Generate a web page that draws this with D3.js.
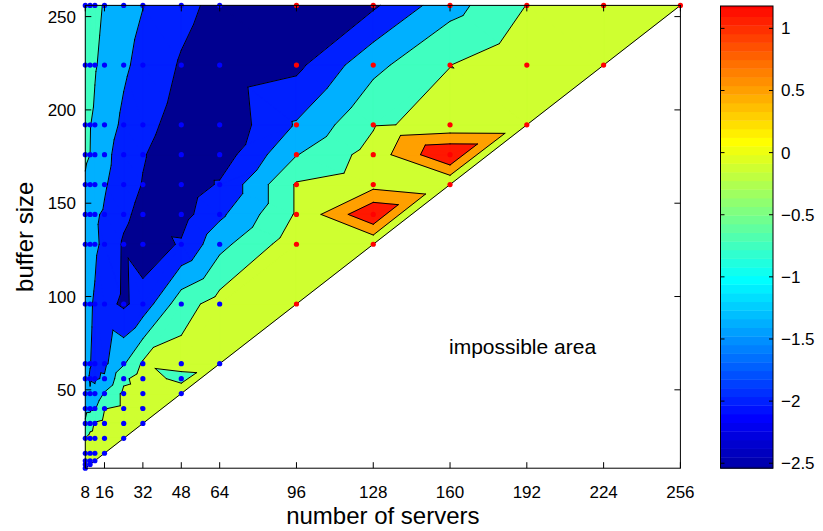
<!DOCTYPE html>
<html><head><meta charset="utf-8">
<script src="https://cdn.jsdelivr.net/npm/d3@7"></script>
<style>
body{margin:0;background:#fff}
svg{display:block}
text{font-family:"Liberation Sans",Arial,Helvetica,sans-serif;fill:#000}
</style>
</head><body>
<svg id="chart" width="823" height="531"></svg>
<script>
// ---------------- data ----------------
const xServers = [8,10,12,16,24,32,48,64,96,128,160,192,224,256];
const yBuffers = [8,10,12,16,24,32,40,48,56,64,96,128,144,160,176,192,224,256];
// value per measured point, one array per number of servers, aligned with yBuffers
// (null = buffer smaller than number of servers: impossible)
const col8   = [-0.25,-0.22,-0.25,-0.30,-0.48,-0.95,-1.12,-1.30,-1.40,-1.42,-1.35,-1.20,-1.15,-1.05,-0.94,-0.86,-0.75,-0.65];
const col10  = [null,-0.25,-0.22,-0.25,-0.35,-0.70,-1.10,-1.48,-1.52,-1.49,-1.45,-1.32,-1.28,-1.15,-1.00,-0.99,-0.86,-0.78];
const col12  = [null,null,-0.25,-0.22,-0.30,-0.45,-1.05,-1.40,-1.55,-1.58,-1.55,-1.42,-1.45,-1.25,-1.10,-1.06,-0.97,-0.90];
const col16  = [null,null,null,-0.25,-0.25,-0.35,-0.52,-0.95,-1.45,-1.60,-1.85,-1.60,-1.55,-1.45,-1.35,-1.25,-1.10,-1.03];
const col24  = [null,null,null,null,-0.30,-0.30,-0.40,-0.40,-0.60,-1.05,-2.08,-2.06,-1.90,-1.78,-1.75,-1.60,-1.42,-1.30];
const col32  = [null,null,null,null,null,-0.35,-0.51,-0.32,-0.25,-0.425,-1.80,-2.27,-2.15,-2.02,-1.97,-1.85,-1.65,-1.49];
const col48  = [null,null,null,null,null,null,null,-0.14,-0.66,-0.32,-0.70,-1.95,-2.19,-2.30,-2.30,-2.20,-2.05,-1.85];
const col64  = [null,null,null,null,null,null,null,null,null,-0.26,-0.30,-1.15,-1.60,-1.95,-2.28,-2.39,-2.32,-2.15];
const col96  = [null,null,null,null,null,null,null,null,null,null,-0.30,-0.20,-0.45,-0.45,-1.02,-1.45,-2.12,-2.40];
const col128 = [null,null,null,null,null,null,null,null,null,null,null,-0.43,0.96,-0.18,-0.30,-0.55,-1.14,-2.08];
const col160 = [null,null,null,null,null,null,null,null,null,null,null,null,null,-0.45,1.00,-0.38,-0.505,-1.18];
const col192 = [null,null,null,null,null,null,null,null,null,null,null,null,null,null,null,-0.40,-0.12,-0.49];
const col224 = [null,null,null,null,null,null,null,null,null,null,null,null,null,null,null,null,-0.30,-0.30];
const col256 = [null,null,null,null,null,null,null,null,null,null,null,null,null,null,null,null,null,-0.20];
const columns = [col8,col10,col12,col16,col24,col32,col48,col64,col96,col128,col160,col192,col224,col256];
const blueSeriesServers = [8,10,12,16,24,32,48,64];   // blue markers, the rest red
// grid cells (lower-left corner) split along the lower-left/upper-right diagonal
const upRightCells = [[24,64],[32,64],[48,64],[32,96],[64,96],[64,160],[64,176],[96,144],[96,224],[128,192],[128,224]];

const levels = [-2,-1.5,-1,-0.5,0,0.5];
const xTicks = [8,16,32,48,64,96,128,160,192,224,256];
const yTicks = [50,100,150,200,250];
const cbTicks = [1,0.5,0,-0.5,-1,-1.5,-2,-2.5];
const cbShown = [-2.54,1.18];      // colour bar limits
const cmapRange = [-2.66,1.79];    // range covered by the 64 colours

// ---------------- styles ----------------
const bandColors = ["#000090","#0020ff","#00b0ff","#40ffc0","#cfff30","#ffa000","#ff1800"];
const plot = {l:85.3, r:680.4, t:5.4, b:468.2};
const cb = {l:720.5, r:773, t:6, b:468.2};
const tickFont = 17, labelFont = 24, noteFont = 21;

const svg = d3.select("#chart");
const x = d3.scaleLinear().domain([8,256]).range([plot.l, plot.r]);
const y = d3.scaleLinear().domain([8,256]).range([plot.b, plot.t]);

// points
const pts = [];
const byKey = {};
xServers.forEach((sx, ci) => {
  columns[ci].forEach((v, ri) => {
    if (v !== null) {
      const p = {x: sx, y: yBuffers[ri], v: v, blue: blueSeriesServers.includes(sx)};
      pts.push(p); byKey[sx + "," + yBuffers[ri]] = p;
    }
  });
});
const P = (a, b) => byKey[a + "," + b];
const isUpRight = (a, b) => upRightCells.some(c => c[0] === a && c[1] === b);

// triangulation of the measurement grid (buffer >= servers)
const tris = [];
for (let i = 0; i < xServers.length - 1; i++) {
  const x0 = xServers[i], x1 = xServers[i + 1];
  for (let j = 0; j < yBuffers.length - 1; j++) {
    const y0 = yBuffers[j], y1 = yBuffers[j + 1];
    if (y0 >= x1) {
      const BL = P(x0, y0), BR = P(x1, y0), TL = P(x0, y1), TR = P(x1, y1);
      if (isUpRight(x0, y0)) tris.push([BL, BR, TR], [BL, TR, TL]);
      else tris.push([TL, BL, BR], [TL, BR, TR]);
    } else if (y0 >= x0 && y1 <= x1) {
      tris.push([P(x0, y0), P(x0, y1), P(x1, x1)]);
    }
  }
}

function clip(poly, f) {
  const out = [];
  for (let i = 0; i < poly.length; i++) {
    const a = poly[i], b = poly[(i + 1) % poly.length];
    const fa = f(a), fb = f(b);
    if (fa >= 0) out.push(a);
    if ((fa >= 0) !== (fb >= 0)) {
      const t = fa / (fa - fb);
      out.push({x: a.x + t * (b.x - a.x), y: a.y + t * (b.y - a.y), v: a.v + t * (b.v - a.v)});
    }
  }
  return out;
}

const bandPaths = bandColors.map(() => []);
const linePath = [];
tris.forEach(T => {
  for (let k = 0; k <= levels.length; k++) {
    const lo = k === 0 ? -Infinity : levels[k - 1];
    const hi = k === levels.length ? Infinity : levels[k];
    let poly = T;
    if (isFinite(lo)) poly = clip(poly, p => p.v - lo);
    if (poly.length >= 3 && isFinite(hi)) poly = clip(poly, p => hi - p.v);
    if (poly.length >= 3) {
      bandPaths[k].push("M" + poly.map(p => x(p.x).toFixed(2) + "," + y(p.y).toFixed(2)).join("L") + "Z");
    }
  }
  levels.forEach(L => {
    const cross = [];
    for (let e = 0; e < 3; e++) {
      const a = T[e], b = T[(e + 1) % 3];
      const da = (a.v === L ? 1e-9 : a.v - L), db = (b.v === L ? 1e-9 : b.v - L);
      if ((da < 0) !== (db < 0)) {
        const t = da / (da - db);
        cross.push([x(a.x + t * (b.x - a.x)), y(a.y + t * (b.y - a.y))]);
      }
    }
    if (cross.length === 2) linePath.push("M" + cross[0][0].toFixed(2) + "," + cross[0][1].toFixed(2) + "L" + cross[1][0].toFixed(2) + "," + cross[1][1].toFixed(2));
  });
});

const g = svg.append("g");
bandPaths.forEach((d, k) => {
  g.append("path").attr("d", d.join("")).attr("fill", bandColors[k])
    .attr("stroke", bandColors[k]).attr("stroke-width", 0.6).attr("stroke-linejoin", "round");
});
g.append("path").attr("d", linePath.join("")).attr("fill", "none")
  .attr("stroke", "#000").attr("stroke-width", 1).attr("stroke-linecap", "round");
// boundary of the possible area (diagonal)
g.append("line").attr("x1", x(8)).attr("y1", y(8)).attr("x2", x(256)).attr("y2", y(256))
  .attr("stroke", "#000").attr("stroke-width", 1);

// markers
g.selectAll("circle").data(pts).enter().append("circle")
  .attr("cx", d => x(d.x)).attr("cy", d => y(d.y)).attr("r", 2.6)
  .attr("fill", d => d.blue ? "#0000ff" : "#ff0000");

// axes box and ticks
const ax = svg.append("g").attr("stroke", "#000").attr("stroke-width", 1).attr("fill", "none");
ax.append("rect").attr("x", plot.l).attr("y", plot.t).attr("width", plot.r - plot.l).attr("height", plot.b - plot.t);
const tl = 6;
xTicks.forEach(t => {
  ax.append("line").attr("x1", x(t)).attr("x2", x(t)).attr("y1", plot.b).attr("y2", plot.b - tl);
  ax.append("line").attr("x1", x(t)).attr("x2", x(t)).attr("y1", plot.t).attr("y2", plot.t + tl);
});
yTicks.forEach(t => {
  ax.append("line").attr("y1", y(t)).attr("y2", y(t)).attr("x1", plot.l).attr("x2", plot.l + tl);
  ax.append("line").attr("y1", y(t)).attr("y2", y(t)).attr("x1", plot.r).attr("x2", plot.r - tl);
});
xTicks.forEach(t => {
  svg.append("text").attr("x", x(t)).attr("y", 498).attr("text-anchor", "middle")
    .attr("font-size", tickFont).text(t);
});
yTicks.forEach(t => {
  svg.append("text").attr("x", 76).attr("y", y(t) + 6).attr("text-anchor", "end")
    .attr("font-size", tickFont).text(t);
});
svg.append("text").attr("x", (plot.l + plot.r) / 2).attr("y", 524).attr("text-anchor", "middle")
  .attr("font-size", labelFont).text("number of servers");
svg.append("text").attr("transform", `translate(33,${(plot.t + plot.b) / 2}) rotate(-90)`)
  .attr("text-anchor", "middle").attr("font-size", labelFont).text("buffer size");
svg.append("text").attr("x", 449).attr("y", 354).attr("text-anchor", "start")
  .attr("font-size", noteFont).text("impossible area");

// colour bar
function jet64(k) { // k = 1..64
  const R = k < 25 ? 0 : k <= 40 ? (k - 24) / 16 : k <= 55 ? 1 : (72 - k) / 16;
  const G = k < 9 ? 0 : k <= 24 ? (k - 8) / 16 : k <= 39 ? 1 : k <= 55 ? (56 - k) / 16 : 0;
  const B = k <= 8 ? (k + 8) / 16 : k <= 23 ? 1 : k <= 39 ? (40 - k) / 16 : 0;
  return d3.rgb(R * 255, G * 255, B * 255).toString();
}
const cy = d3.scaleLinear().domain(cbShown).range([cb.b, cb.t]);
const cbg = svg.append("g");
for (let k = 1; k <= 64; k++) {
  const v0 = cmapRange[0] + (k - 1) / 64 * (cmapRange[1] - cmapRange[0]);
  const v1 = cmapRange[0] + k / 64 * (cmapRange[1] - cmapRange[0]);
  const a = Math.max(v0, cbShown[0]), b = Math.min(v1, cbShown[1]);
  if (b <= a) continue;
  cbg.append("rect").attr("x", cb.l).attr("width", cb.r - cb.l)
    .attr("y", cy(b)).attr("height", cy(a) - cy(b) + 0.4).attr("fill", jet64(k));
}
cbg.append("rect").attr("x", cb.l).attr("y", cb.t).attr("width", cb.r - cb.l).attr("height", cb.b - cb.t)
  .attr("fill", "none").attr("stroke", "#000").attr("stroke-width", 1);
cbTicks.forEach(t => {
  cbg.append("line").attr("x1", cb.r).attr("x2", cb.r - 4).attr("y1", cy(t)).attr("y2", cy(t)).attr("stroke", "#000");
  cbg.append("line").attr("x1", cb.l).attr("x2", cb.l + 4).attr("y1", cy(t)).attr("y2", cy(t)).attr("stroke", "#000");
  cbg.append("text").attr("x", cb.r + 8).attr("y", cy(t) + 6).attr("font-size", tickFont)
    .text(t < 0 ? "\u2212" + Math.abs(t) : String(t));
});
</script>
</body></html>
